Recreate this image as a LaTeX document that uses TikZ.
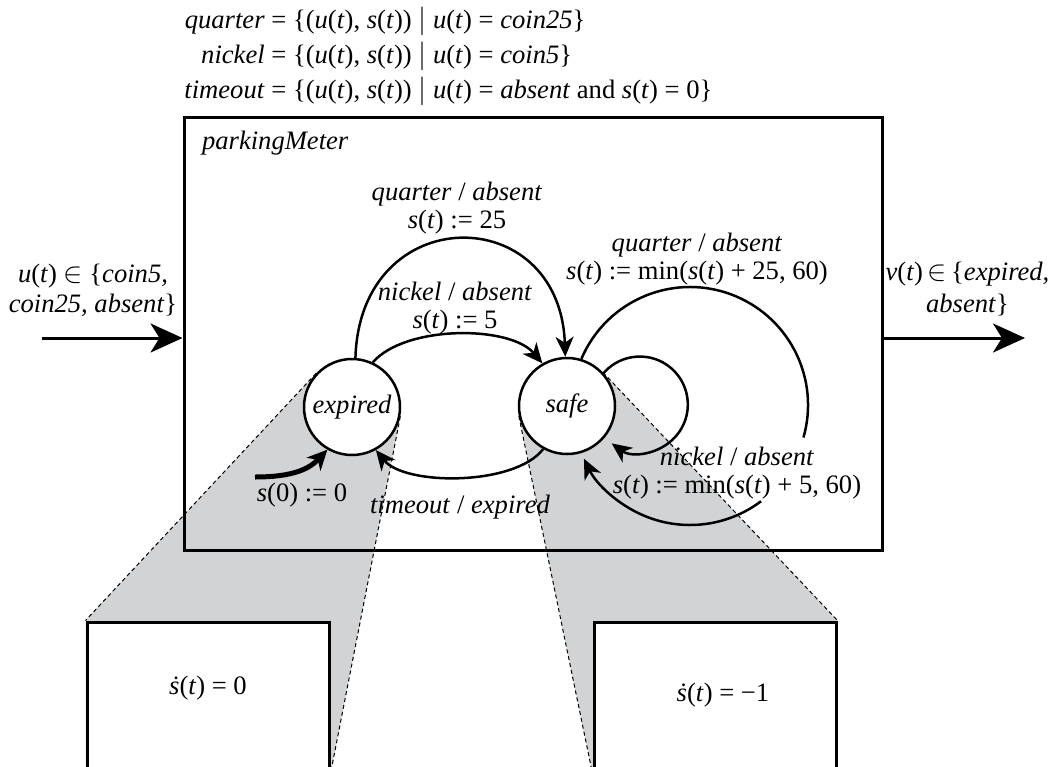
\documentclass[tikz,border=0pt]{standalone}
\usepackage{fontspec}
\setmainfont{Liberation Serif}
\usetikzlibrary{positioning, arrows.meta, calc, backgrounds}

\definecolor{projgray}{RGB}{209,211,212}
\newcommand{\sOfT}{\textit{s}(\textit{t})}
\newcommand{\uOfT}{\textit{u}(\textit{t})}

\begin{document}
\begin{tikzpicture}[
  x=0.5pt, y=-0.5pt,
  font=\fontsize{13.3}{14}\selectfont,
  state/.style={circle, draw, line width=1.25pt, fill=white, minimum size=48pt,
                inner sep=0pt, font=\fontsize{13.3}{14}\selectfont\itshape},
  frame/.style={draw, line width=1.5pt, inner sep=0pt},
  edge/.style={line width=1.25pt, -{Stealth[length=10pt, width=9pt, inset=3pt]}},
  initarr/.style={line width=2.5pt, -{Stealth[length=10pt, width=9.5pt, inset=3pt]}},
  ioarr/.style={line width=1.5pt, -{Stealth[length=16pt, width=14.5pt, inset=4.5pt]}},
  proj/.style={dash pattern=on 2pt off 1.5pt, line width=0.5pt},
  shade/.style={fill=projgray},
  lbl/.style={align=center, inner sep=0pt},
]
\useasboundingbox (0,0) rectangle (1049,766);

% ---- Definitions of the guards ----
\node[anchor=west, inner sep=0pt, font=\fontsize{13.3}{17.5}\selectfont] (defs) at (184,56) {%
  \begin{tabular}{@{}r@{ = }l@{}}
    \textit{quarter} & \{(\uOfT, \sOfT) $\big|$ \uOfT{} = \textit{coin25}\}\\
    \textit{nickel}  & \{(\uOfT, \sOfT) $\big|$ \uOfT{} = \textit{coin5}\}\\
    \textit{timeout} & \{(\uOfT, \sOfT) $\big|$ \uOfT{} = \textit{absent} and \sOfT{} = 0\}
  \end{tabular}};

% ---- Actor frame and refinements ----
\node[frame, minimum width=349pt, minimum height=216.5pt] (meter) at (533,333.5) {};
\node[anchor=west] (meterName) at (195,143) {\textit{parkingMeter}};

\node[frame, fill=white, minimum width=121pt, minimum height=75pt] (zeroBox) at (208,697) {};
\node[frame, fill=white, minimum width=121pt, minimum height=75pt] (oneBox) at (715,697) {};
\node (zeroEq) at (208,688) {\textit{\.{s}}(\textit{t}) = 0};
\node (oneEq) at (723,695) {\textit{\.{s}}(\textit{t}) = −1};

% ---- States ----
\node[state] (expired) at (352,407) {expired};
\node[state] (safe) at (567,406) {safe};

% ---- Projections onto the refinements ----
\begin{scope}[on background layer]
  \fill[shade] (expired.137) -- (zeroBox.north west) -- (zeroBox.south west)
    -- (zeroBox.south east) -- (expired.-11) -- (expired.center) -- cycle;
  \fill[shade] (safe.192) -- (oneBox.south west) -- (oneBox.south east)
    -- (oneBox.north east) -- (safe.43) -- (safe.center) -- cycle;
  \draw[proj] (expired.137) -- (zeroBox.north west);
  \draw[proj] (expired.-11) -- (zeroBox.south east);
  \draw[proj] (safe.192) -- (oneBox.south west);
  \draw[proj] (safe.43) -- (oneBox.north east);
\end{scope}

% ---- Inputs and outputs ----
\coordinate (uIn) at (42,338);
\coordinate (vOut) at (1025,338);
\draw[ioarr] (uIn) -- (uIn -| meter.west);
\draw[ioarr] (vOut -| meter.east) -- (vOut);
\node[lbl, font=\fontsize{13.3}{15}\selectfont] (uLbl) at (93,290)
  {\uOfT{} $\in$ \{\textit{coin5,}\\\textit{coin25, absent}\}};
\node[lbl, font=\fontsize{13.3}{16}\selectfont] (vLbl) at (967.5,289)
  {\textit{v}(\textit{t})\,$\in$\,\{\textit{expired,}\\\textit{absent}\}};

% ---- Transitions ----
\coordinate (initStart) at (255,477);
\draw[initarr] (initStart) .. controls (295,477) and (310,468) .. (expired.240);
\draw[edge] (expired.86) .. controls (360,200) and (560,200) .. (safe.92);
\draw[edge] (expired.65) .. controls (405,325) and (510,325) .. (safe.120);
\draw[edge] (safe.241) .. controls (515,486) and (405,486) .. (expired.299);
\draw[edge] (safe.42) arc[start angle=139, end angle=-126, radius=24pt];
\coordinate (bigLoop) at (690,407);
\draw[line width=1.25pt] (safe.73) arc[start angle=157, end angle=-16, radius=59pt];
\draw[edge] ([shift={(-53:59pt)}]bigLoop) arc[start angle=-53, end angle=-154, radius=59pt];

% ---- Transition labels ----
\node[lbl] (quarterA) at (457,208) {\textit{quarter} / \textit{absent}\\\sOfT{} := 25};
\node[lbl] (nickelA) at (455,308) {\textit{nickel} / \textit{absent}\\\sOfT{} := 5};
\node[lbl] (timeoutLbl) at (460,507) {\textit{timeout} / \textit{expired}};
\node[lbl] (initLbl) at (302,495) {\textit{s}(0) := 0};
\node[lbl] (quarterB) at (697,259)
  {\textit{quarter} / \textit{absent}\\\sOfT{} := min(\sOfT{} + 25, 60)};
\node[lbl] (nickelB) at (737,473)
  {\textit{nickel} / \textit{absent}\\\sOfT{} := min(\sOfT{} + 5, 60)};

\end{tikzpicture}
\end{document}
